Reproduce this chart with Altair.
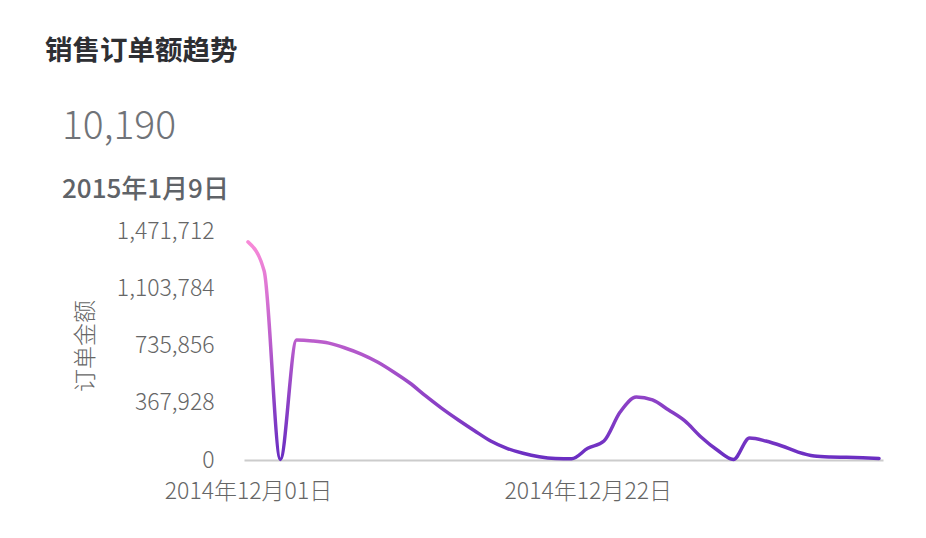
import altair as alt
import pandas as pd

dates = pd.date_range("2014-12-01", "2015-01-09", freq="D").strftime("%Y-%m-%d").tolist()
values = [
    1402000, 1215000, 4000, 771000, 765000, 751000, 720000, 681000, 630000, 566000,
    495000, 410000, 330000, 257000, 188000, 122000, 75000, 43000, 21000, 10000,
    8000, 75000, 122000, 308000, 405000, 386000, 321000, 251000, 148000, 64000,
    3000, 141000, 122000, 90000, 51000, 26000, 19000, 17000, 14000, 10190,
]
y_ticks = [0, 367928, 735856, 1103784, 1471712]
x_ticks = ["2014-12-01", "2014-12-22"]

df = pd.DataFrame({"date": dates, "key": dates, "value": values})
last_date = dates[-1]

FONT = "Noto Sans CJK SC"

grad = alt.Gradient(
    gradient="linear",
    x1=0, x2=0, y1=0, y2=1,
    stops=[
        alt.GradientStop(color="#f88ad8", offset=0.0),
        alt.GradientStop(color="#df78d4", offset=0.2),
        alt.GradientStop(color="#bc5ecc", offset=0.45),
        alt.GradientStop(color="#8e42c6", offset=0.72),
        alt.GradientStop(color="#6a2ec2", offset=1.0),
    ],
)

base = alt.Chart(df)

line = base.mark_line(
    interpolate="monotone", strokeWidth=3.5, strokeCap="round", stroke=grad
).encode(
    x=alt.X(
        "date:T",
        scale=alt.Scale(type="utc", padding=4),
        axis=alt.Axis(
            title=None,
            values=[alt.DateTime(year=int(d[:4]), month=int(d[5:7]), date=int(d[8:]), utc=True) for d in x_ticks],
            format="%Y年%m月%d日",
            labelFont=FONT, labelFontSize=23, labelColor="#666666", labelFontWeight=300,
            labelPadding=20, labelFlush=False, labelOverlap=False,
            ticks=False, grid=False,
            domainColor="#cccccc", domainWidth=2,
        ),
    ),
    y=alt.Y(
        "value:Q",
        scale=alt.Scale(domain=[0, 1471712], nice=False, zero=True),
        axis=alt.Axis(
            title="订单金额",
            values=y_ticks, format=",.0f",
            labelFont=FONT, labelFontSize=23, labelColor="#666666", labelFontWeight=300,
            labelPadding=30, ticks=False, grid=False, domain=False,
            titleFont=FONT, titleFontSize=23, titleColor="#666666", titleFontWeight=300,
            titlePadding=19,
        ),
    ),
)

last = base.transform_filter(alt.datum.key == last_date).transform_calculate(
    dlabel="utcFormat(toDate(datum.key), '%Y年%-m月%-d日')"
)

title_txt = last.mark_text(
    align="left", baseline="middle", font=FONT, fontSize=27.5, fontWeight="bold", color="#2e2f33"
).encode(x=alt.value(-199), y=alt.value(-179), text=alt.value("销售订单额趋势"))

value_txt = last.mark_text(
    align="left", baseline="middle", font=FONT, fontSize=39, fontWeight=300, color="#707378"
).encode(x=alt.value(-182), y=alt.value(-104), text=alt.Text("value:Q", format=","))

date_txt = last.mark_text(
    align="left", baseline="middle", font=FONT, fontSize=26, fontWeight=500, color="#5f6368"
).encode(x=alt.value(-182), y=alt.value(-41), text="dlabel:N")

chart = alt.layer(line, title_txt, value_txt, date_txt).properties(
    width=639, height=229,
    autosize=alt.AutoSizeParams(type="none"),
    padding={"left": 236, "top": 223, "right": 35, "bottom": 70},
).configure_view(stroke=None)

chart.save("out.html", embed_options={"renderer": "svg", "actions": False})
